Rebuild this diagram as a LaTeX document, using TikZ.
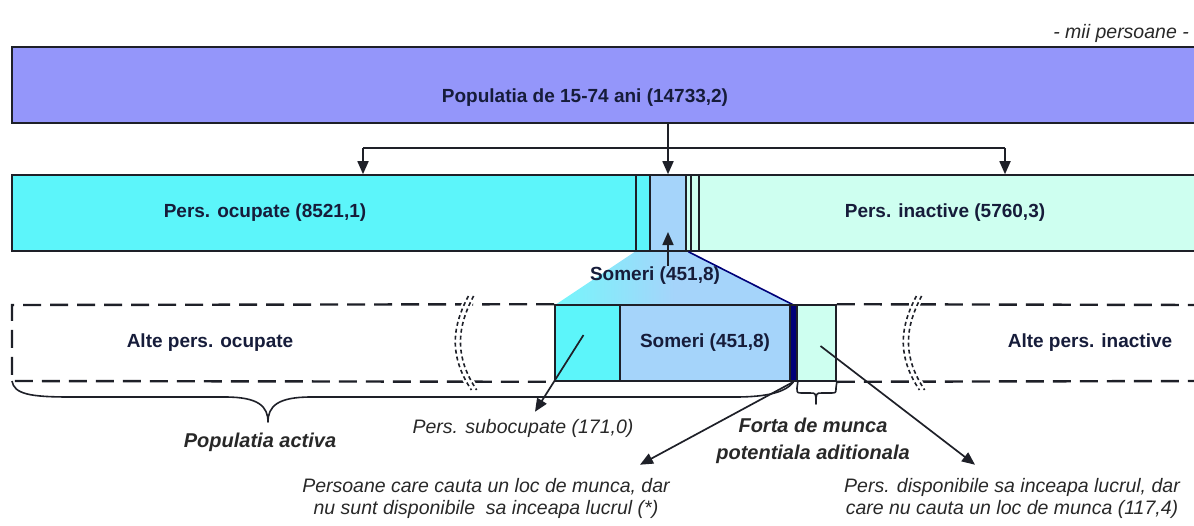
\documentclass[tikz,border=0pt]{standalone}
\usepackage{fontspec}
\setmainfont{Liberation Sans}
\usetikzlibrary{arrows.meta,positioning,calc}
\definecolor{popblue}{RGB}{148,150,250}
\definecolor{ocupcyan}{RGB}{92,245,250}
\definecolor{somerblue}{RGB}{165,212,250}
\definecolor{inactmint}{RGB}{206,255,240}
\definecolor{txtnavy}{RGB}{22,28,58}
\definecolor{txtgray}{RGB}{40,40,40}
\definecolor{edgegray}{RGB}{30,32,40}
\definecolor{funnelnavy}{RGB}{0,0,120}

\tikzset{
  seg/.style={draw=edgegray, line width=1.6pt, inner sep=0pt, minimum height=76pt, fill=#1},
  boldlbl/.style={font=\bfseries\fontsize{19}{22}\selectfont, text=txtnavy, inner sep=1pt},
  bilbl/.style={font=\bfseries\itshape\fontsize{20}{27}\selectfont, text=txtgray, align=center, inner sep=1pt},
  itlbl/.style={font=\itshape\fontsize{19.5}{22}\selectfont, text=txtgray, align=center, inner sep=1pt},
  dashline/.style={line width=2.4pt, dash pattern=on 18pt off 9pt, edgegray},
  conn/.style={line width=1.7pt, edgegray},
  bracelin/.style={line width=1.6pt, edgegray, line join=round}
}

\begin{document}
\begin{tikzpicture}[x=1pt, y=-1pt, >={Triangle[length=13pt,width=11pt]}]
\useasboundingbox (0,0) rectangle (1194,525);

% Einheit
\node[itlbl, anchor=east] (unit) at (1190,33) {- mii persoane -};

% Populatia totala
\node[seg=popblue, minimum width=1193pt] (pop) at (608.5,85) {};
\node[boldlbl] (poptxt) at (585,98) {Populatia de 15-74 ani (14733,2)};

% Trichter zu den Somerilor (unter den Boxen)
\shade[left color=ocupcyan!85, right color=somerblue, middle color=somerblue]
  (636,251) -- (688.5,251) -- (793.5,305) -- (555,305) -- cycle;

% mittlere Reihe
\node[seg=ocupcyan, minimum width=624pt] (ocup) at (324,213) {};
\node[seg=ocupcyan, minimum width=14pt] (sub) at (643,213) {};
\node[seg=somerblue, minimum width=36pt] (somer) at (668,213) {};
\node[seg=inactmint, minimum width=5pt] (star) at (688.5,213) {};
\node[seg=inactmint, minimum width=8pt] (pot) at (695,213) {};
\node[seg=inactmint, minimum width=506pt] (inact) at (952,213) {};
\node[boldlbl] (ocuptxt) at (265,213) {Pers. ocupate (8521,1)};
\node[boldlbl] (inacttxt) at (945,213) {Pers. inactive (5760,3)};

% Pfeile von oben
\coordinate (splitL) at (363,148);
\coordinate (splitR) at (1005,148);
\draw[conn,->] (pop.south -| somer.north) -- (somer.north);
\draw[conn] (splitL) -- (splitR);
\draw[conn,->] (splitL) -- (splitL |- ocup.north);
\draw[conn,->] (splitR) -- (splitR |- inact.north);

% Someri Beschriftung
\node[boldlbl] (somlbl) at (655,276) {Someri (451,8)};
\draw[conn,->] (somer.south |- somlbl.north) -- ([yshift=-19pt]somer.center);
\draw[line width=1.6pt, funnelnavy] (star.south) -- (793.5,305);

% untere Reihe
\node[seg=ocupcyan, minimum width=65pt] (subb) at (587.5,343) {};
\node[seg=somerblue, minimum width=170pt, boldlbl, text=txtnavy] (somerb) at (705,343) {Someri (451,8)};
\node[seg=funnelnavy, minimum width=7pt] (starb) at (793.5,343) {};
\node[seg=inactmint, minimum width=39pt] (potb) at (816.5,343) {};

% gestrichelter Rahmen
\coordinate (frameTL) at (12,305);
\coordinate (frameBL) at (12,381);
\coordinate (frameTR) at (1200,305);
\coordinate (frameBR) at (1200,381);
\draw[dashline] (subb.north west) -- (frameTL) -- (frameBL) -- (subb.south west);
\draw[dashline] (potb.north east) -- (frameTR);
\draw[dashline] (potb.south east) -- (frameBR);
\node[boldlbl] (alteocup) at (210,343) {Alte pers. ocupate};
\node[boldlbl] (alteinact) at (1090,343) {Alte pers. inactive};

% Bruchzeichen
\foreach \bx in {470,918}{
  \draw[white, line width=10pt] (\bx+1,296) .. controls (\bx-17,330) and (\bx-17,358) .. (\bx+4,390);
  \foreach \dx in {-2.6,2.6}
    \draw[edgegray, line width=1.6pt, dash pattern=on 4pt off 3pt]
      (\bx+1+\dx,296) .. controls (\bx-17+\dx,330) and (\bx-17+\dx,358) .. (\bx+4+\dx,390);
}

% Klammern
\draw[bracelin] (frameBL) .. controls (14,394) and (30,397) .. (70,397) -- (225,397)
  .. controls (258,397) and (268,406) .. (268,422)
  .. controls (268,406) and (278,397) .. (311,397) -- (735,397)
  .. controls (768,397) and (786,392) .. (starb.south);
\draw[bracelin] (starb.south east) -- (797,388) .. controls (797,393) .. (803,393) -- (810,393)
  .. controls (816,393) .. (816,404) .. controls (816,393) .. (822,393) -- (830,393)
  .. controls (836,393) .. (836,388) -- (potb.south east);
\node[bilbl] (activ) at (260,442) {Populatia activa};
\node[bilbl] (forta) at (813,441) {Forta de munca\\potentiala aditionala};

% Erlaeuterungen
\node[itlbl] (sublbl) at (523,428) {Pers. subocupate (171,0)};
\node[itlbl] (starlbl) at (486,498) {Persoane care cauta un loc de munca, dar\\nu sunt disponibile\ \ sa inceapa lucrul (*)};
\node[itlbl] (potlbl) at (1012,498) {Pers. disponibile sa inceapa lucrul, dar\\care nu cauta un loc de munca (117,4)};
\draw[conn,->] ([shift={(-4pt,8pt)}]subb.center) -- ([shift={(12pt,6pt)}]sublbl.north);
\draw[conn,->] (starb.south) -- ([shift={(154pt,12pt)}]starlbl.north);
\draw[conn,->] ([shift={(4pt,-3pt)}]potb.center) -- ([shift={(-37pt,12pt)}]potlbl.north);
\end{tikzpicture}
\end{document}
